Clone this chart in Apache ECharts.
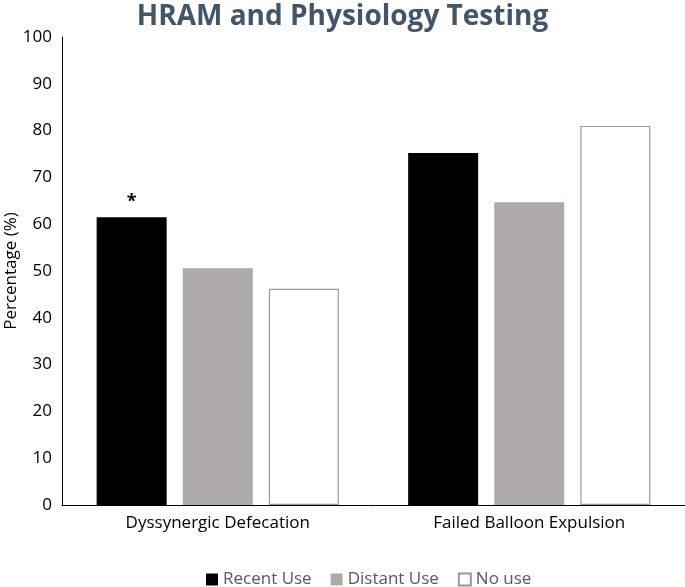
<!DOCTYPE html>
<html><head><meta charset="utf-8">
<script src="https://cdn.jsdelivr.net/npm/echarts@6/dist/echarts.min.js"></script>
<style>html,body{margin:0;padding:0;background:#fff}#c{width:685px;height:587px}</style>
</head><body><div id="c"></div>
<script>
const categories = ["Dyssynergic Defecation", "Failed Balloon Expulsion"];
const recentUse = [61.5, 75.2];
const distantUse = [50.6, 64.7];
const noUse = [46.2, 81.0];
const recentMarks = ["*", ""];
const yTicks = [0, 10, 20, 30, 40, 50, 60, 70, 80, 90, 100];

const font = "'Open Sans', 'Noto Sans', sans-serif";
const chart = echarts.init(document.getElementById('c'));
chart.setOption({
  animation: false,
  title: {
    text: "HRAM and Physiology Testing",
    left: 'center', top: -2,
    textStyle: {fontFamily: font, fontSize: 28, fontWeight: 'bold', color: '#44546a'}
  },
  legend: {
    left: 201, top: 566, itemWidth: 12, itemHeight: 12, itemGap: 19,
    textStyle: {fontFamily: font, fontSize: 17, color: '#595959'},
    data: [
      {name: 'Recent Use', icon: 'rect'},
      {name: 'Distant Use', icon: 'rect'},
      {name: 'No use', icon: 'rect'}
    ]
  },
  grid: {left: 62, right: 0, top: 37, bottom: 82, containLabel: false, outerBoundsMode: 'none'},
  xAxis: {
    type: 'category', data: categories,
    axisLine: {lineStyle: {color: '#000', width: 1}},
    axisTick: {show: false},
    axisLabel: {fontFamily: font, fontSize: 17, color: '#000', margin: 10}
  },
  yAxis: {
    type: 'value', min: yTicks[0], max: yTicks[yTicks.length - 1], interval: 10,
    name: 'Percentage (%)', nameLocation: 'middle', nameGap: 42, nameRotate: 90,
    nameMoveOverlap: false,
    nameTextStyle: {fontFamily: font, fontSize: 17, color: '#000'},
    axisLine: {show: true, lineStyle: {color: '#000', width: 1}},
    axisTick: {show: false},
    splitLine: {show: false},
    axisLabel: {fontFamily: font, fontSize: 17, color: '#000', margin: 10}
  },
  series: [
    {name: 'Recent Use', type: 'bar', barWidth: 70, barGap: '23%',
     itemStyle: {color: '#000'},
     data: recentUse.map((v, i) => ({value: v, label: {show: recentMarks[i] !== '', formatter: recentMarks[i]}})),
     label: {position: 'top', distance: 6, fontFamily: font, fontSize: 18, fontWeight: 'bold', color: '#000'}},
    {name: 'Distant Use', type: 'bar', barWidth: 70, barGap: '23%',
     itemStyle: {color: '#aeaaaa'}, data: distantUse},
    {name: 'No use', type: 'bar', barWidth: 70, barGap: '23%',
     itemStyle: {color: '#fff', borderColor: '#9a9a9a', borderWidth: 1.2}, data: noUse}
  ]
});
</script></body></html>
